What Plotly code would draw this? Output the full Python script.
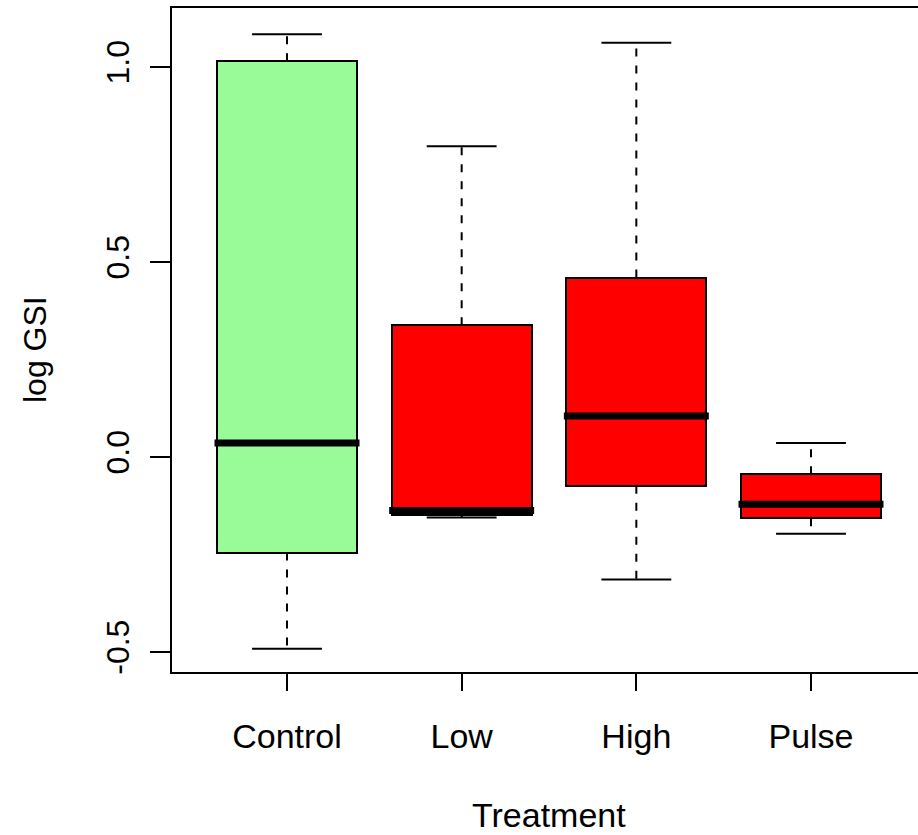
import plotly.graph_objects as go

categories = ["Control", "Low", "High", "Pulse"]
lower = [-0.492, -0.155, -0.314, -0.197]
q1 = [-0.245, -0.148, -0.074, -0.157]
median = [0.036, -0.137, 0.105, -0.121]
q3 = [1.015, 0.338, 0.460, -0.044]
upper = [1.084, 0.797, 1.062, 0.036]
colors = ["#98FB98", "#FF0000", "#FF0000", "#FF0000"]

y_ticks = [-0.5, 0.0, 0.5, 1.0]
y_ticktext = ["-0.5", "0.0", "0.5", "1.0"]

pos = [i + 1 for i in range(len(categories))]
box_w = 0.8
cap_half = 0.2
med_half = 0.415

FONT = "Liberation Sans"

fig = go.Figure()

# whiskers (dashed)
wx, wy = [], []
for p, lo, a, b, hi in zip(pos, lower, q1, q3, upper):
    wx += [p, p, None, p, p, None]
    wy += [b, hi, None, a, lo, None]
fig.add_trace(go.Scatter(x=wx, y=wy, mode="lines",
                         line=dict(color="black", width=2, dash="8px,9px"),
                         hoverinfo="skip", showlegend=False))

# caps
cx, cy = [], []
for p, lo, hi in zip(pos, lower, upper):
    cx += [p - cap_half, p + cap_half, None, p - cap_half, p + cap_half, None]
    cy += [hi, hi, None, lo, lo, None]
fig.add_trace(go.Scatter(x=cx, y=cy, mode="lines",
                         line=dict(color="black", width=2),
                         hoverinfo="skip", showlegend=False))

# boxes
fig.add_trace(go.Bar(x=pos, y=[b - a for a, b in zip(q1, q3)], base=q1,
                     width=box_w,
                     marker=dict(color=colors, line=dict(color="black", width=2)),
                     hoverinfo="skip", showlegend=False))

# medians
mx, my = [], []
for p, m in zip(pos, median):
    mx += [p - med_half, p + med_half, None]
    my += [m, m, None]
fig.add_trace(go.Scatter(x=mx, y=my, mode="lines",
                         line=dict(color="black", width=7),
                         hoverinfo="skip", showlegend=False))

fig.update_layout(
    width=918, height=835,
    margin=dict(l=172, r=0, t=8, b=163),
    plot_bgcolor="white", paper_bgcolor="white",
    font=dict(family=FONT, color="black", size=33),
    bargap=0,
    xaxis=dict(range=[0.3416, 4.6126], tickvals=pos, ticktext=categories,
               showgrid=False, zeroline=False, showline=True, mirror=True,
               linecolor="black", linewidth=2,
               ticks="outside", ticklen=17, tickwidth=2, tickcolor="black",
               ticklabelstandoff=16,
               tickfont=dict(family=FONT, size=34, color="black")),
    yaxis=dict(range=[-0.5513, 1.1513], tickvals=y_ticks, ticktext=y_ticktext,
               showgrid=False, zeroline=False, showline=True, mirror=False,
               linecolor="black", linewidth=2,
               ticks="outside", ticklen=20, tickwidth=2, tickcolor="black",
               tickangle=-90, ticklabelstandoff=8,
               tickfont=dict(family=FONT, size=32, color="black")),
    annotations=[
        dict(text="Treatment", xref="paper", yref="paper", x=(549 - 172) / 746,
             y=-(815 - 672) / 664, xanchor="center", yanchor="middle",
             showarrow=False, font=dict(family=FONT, size=34, color="black")),
        dict(text="log GSI", xref="paper", yref="paper", x=-(172 - 35) / 746,
             y=(672 - 350) / 664, xanchor="center", yanchor="middle",
             textangle=-90, showarrow=False,
             font=dict(family=FONT, size=32, color="black")),
    ],
)

fig.write_html("out.html")
